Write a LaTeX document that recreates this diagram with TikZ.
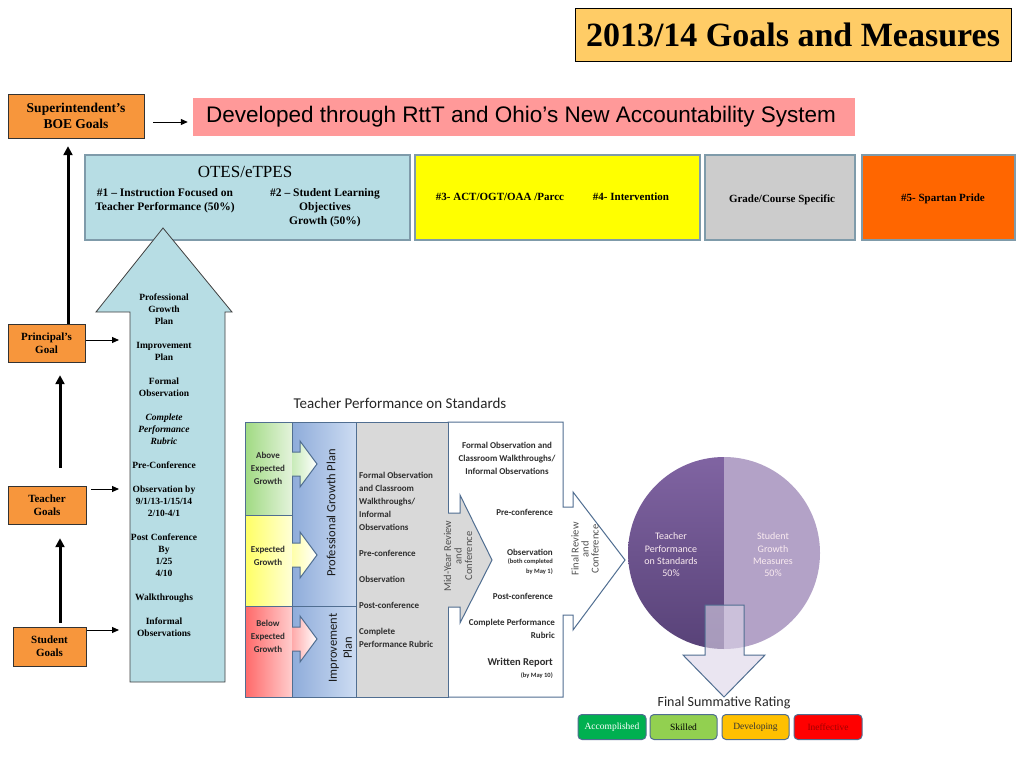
\documentclass[tikz,border=0pt]{standalone}
\usepackage{fontspec}
\setmainfont{Liberation Serif}
\newfontfamily\carl{Carlito}
\newfontfamily\arialf{Liberation Sans}
\usetikzlibrary{arrows.meta,calc}
\definecolor{goalor}{RGB}{247,150,60}
\definecolor{titlef}{RGB}{255,204,102}
\definecolor{pinkf}{RGB}{255,153,153}
\definecolor{otesf}{RGB}{183,221,228}
\definecolor{boxbd}{RGB}{127,155,170}
\definecolor{yelf}{RGB}{255,255,0}
\definecolor{grayf}{RGB}{204,204,204}
\definecolor{orf}{RGB}{255,102,0}
\definecolor{tline}{RGB}{80,110,145}
\definecolor{grayc}{RGB}{217,217,217}
\definecolor{txtg}{RGB}{45,45,45}
\definecolor{txtr}{RGB}{80,80,80}
\definecolor{pdark}{RGB}{88,66,120}
\definecolor{pmid}{RGB}{128,100,162}
\definecolor{plight}{RGB}{179,162,199}
\definecolor{lav}{RGB}{220,213,232}
\definecolor{accf}{RGB}{0,176,80}
\definecolor{skf}{RGB}{146,208,80}
\definecolor{devf}{RGB}{255,192,0}
\definecolor{inef}{RGB}{255,0,0}
\definecolor{inet}{RGB}{160,0,0}
\begin{document}
\begin{tikzpicture}[x=1pt,y=-1pt,
  goalbox/.style={draw=black!80,fill=goalor,inner sep=0,align=center,font=\bfseries\fontsize{11}{13}\selectfont},
  topbox/.style={draw=boxbd,line width=2.5pt,inner sep=0,minimum height=85},
  bold11/.style={font=\bfseries\fontsize{11.5}{14}\selectfont,align=center},
  thinarr/.style={-{Triangle[length=7pt,width=6pt]},line width=1pt},
  thickarr/.style={-{Triangle[length=9pt,width=9pt]},line width=3pt},
  tl/.style={draw=tline,line width=1pt},
  cb/.style={font=\carl\bfseries\fontsize{9}{13}\selectfont,text=txtg},
  rate/.style={draw=tline,line width=1pt,rounded corners=4pt,minimum width=67,minimum height=25,inner sep=0,font=\fontsize{9.5}{11}\selectfont}
]
\useasboundingbox (0,0) rectangle (1024,768);
\fill[white] (0,0) rectangle (1024,768);

% title
\node[draw=black,line width=1pt,fill=titlef,minimum width=436,minimum height=53,inner sep=0,
  font=\bfseries\fontsize{34}{38}\selectfont] (title) at (793,35) {2013/14 Goals and Measures};

% superintendent & pink banner
\node[goalbox,minimum width=136,minimum height=44,font=\bfseries\fontsize{13.5}{16.5}\selectfont] (sup) at (76,116) {Superintendent’s\\BOE Goals};
\node[fill=pinkf,minimum width=662,minimum height=38,inner sep=0,font=\arialf\fontsize{22.5}{25}\selectfont] (pink) at (524,117) {\hspace*{-6pt}Developed through RttT and Ohio’s New Accountability System};
\draw[thinarr] ($(sup.east)+(9,6)$) -- ($(pink.west)+(-5,5)$);

% top boxes
\node[topbox,fill=otesf,minimum width=325] (otes) at (247.5,197.5) {};
\node[topbox,fill=yelf,minimum width=285] (yel) at (557.5,197.5) {};
\node[topbox,fill=grayf,minimum width=150] (grade) at (780,197.5) {};
\node[topbox,fill=orf,minimum width=153] (spart) at (938.5,197.5) {};
\node[font=\fontsize{17}{19}\selectfont] (otest) at (245,172) {OTES/eTPES};
\node[bold11] (g1) at (165,201) {\#1 – Instruction Focused on\\Teacher Performance (50\%)};
\node[bold11] (g2) at (325,208) {\#2 – Student Learning\\Objectives\\Growth (50\%)};
\node[font=\bfseries\fontsize{11}{13}\selectfont] (g3) at (500,197) {\#3- ACT/OGT/OAA /Parcc};
\node[font=\bfseries\fontsize{11}{13}\selectfont] (g4) at (631,197) {\#4- Intervention};
\node[font=\bfseries\fontsize{11}{13}\selectfont] (gc) at (782,200) {Grade/Course Specific};
\node[font=\bfseries\fontsize{11}{13}\selectfont] (g5) at (943,199) {\#5- Spartan Pride};

% big up arrow
\draw[fill=otesf,draw=black!75,line width=0.8pt] (130,682) -- (130,312) -- (96,312) -- (163,228) -- (232,312) -- (225,312) -- (225,682) -- cycle;
\node[anchor=north,align=center,inner sep=0,font=\bfseries\fontsize{9.5}{12}\selectfont] (bigtxt) at (164,294)
 {Professional\\Growth\\Plan\\[12pt]Improvement\\Plan\\[12pt]Formal\\Observation\\[12pt]{\itshape Complete}\\{\itshape Performance}\\{\itshape Rubric}\\[12pt]Pre-Conference\\[12pt]Observation by\\9/1/13-1/15/14\\2/10-4/1\\[12pt]Post Conference\\By\\1/25\\4/10\\[12pt]Walkthroughs\\[12pt]Informal\\Observations};
\coordinate (baP) at (119,340);
\coordinate (baT) at (119,489);
\coordinate (baS) at (119,630);

% left goals
\node[goalbox,minimum width=77,minimum height=38] (pri) at (46.5,343) {Principal’s\\Goal};
\node[goalbox,minimum width=78,minimum height=38] (tea) at (47,505) {Teacher\\Goals};
\node[goalbox,minimum width=73,minimum height=39] (stu) at (49.5,646.5) {Student\\Goals};
\draw[thickarr] ($(pri.north)+(21.5,0)$) -- ($(sup.south)+(-8,8)$);
\draw[thickarr] ($(tea.north)+(13,-18)$) -- ($(pri.south)+(13.5,13)$);
\draw[thickarr] ($(stu.north)+(10.5,-4)$) -- ($(tea.south)+(13,14)$);
\draw[thinarr] ($(pri.east)+(1,-3)$) -- (baP);
\draw[thinarr] ($(tea.east)+(5,-16)$) -- (baT);
\draw[thinarr] ($(stu.east)+(1,-16.5)$) -- (baS);

% Teacher performance on standards
\node[font=\carl\fontsize{15}{17}\selectfont,text=black!85] (tps) at (400,403) {Teacher Performance on Standards};
\shade[left color={rgb,255:red,160;green,218;blue,130},right color={rgb,255:red,228;green,243;blue,220}] (245,422) rectangle (292,515);
\shade[left color={rgb,255:red,255;green,255;blue,100},right color={rgb,255:red,255;green,255;blue,215}] (245,515) rectangle (292,606);
\shade[left color={rgb,255:red,255;green,105;blue,105},right color={rgb,255:red,255;green,205;blue,205}] (245,606) rectangle (292,697);
\draw[tl] (245,422) rectangle (292,515) (245,515) rectangle (292,606) (245,606) rectangle (292,697);
\shade[left color={rgb,255:red,142;green,172;blue,218},right color={rgb,255:red,205;green,220;blue,242}] (292,422) rectangle (356,697);
\draw[tl] (292,422) rectangle (356,606) (292,606) rectangle (356,697);
% chevrons
\foreach \c/\lc in {464/{rgb,255:red,200;green,235;blue,185},555/{rgb,255:red,255;green,255;blue,170},639/{rgb,255:red,255;green,170;blue,170}}{
  \shade[tl,left color=\lc,right color=white] (292,\c-12) -- (300,\c-12) -- (300,\c-23) -- (317,\c) -- (300,\c+23) -- (300,\c+12) -- (292,\c+12);
}
% final review arrow (white)
\draw[tl,fill=white] (448,422) -- (563,422) -- (563,507) -- (573,507) -- (573,492) -- (625,560) -- (573,630) -- (573,615) -- (563,615) -- (563,697) -- (448,697) -- cycle;
\draw[tl,fill=grayc] (356,422) rectangle (448,697);
\fill[grayc] (447,513) -- (460,513) -- (460,495) -- (492,560) -- (460,623) -- (460,607) -- (447,607) -- cycle;
\draw[tl] (448,513) -- (460,513) -- (460,495) -- (492,560) -- (460,623) -- (460,607) -- (448,607);

\node[cb,align=center,inner sep=0] (r1) at (268,468) {Above\\Expected\\Growth};
\node[cb,align=center,inner sep=0] (r2) at (268,556) {Expected\\Growth};
\node[cb,align=center,inner sep=0] (r3) at (268,636) {Below\\Expected\\Growth};
\node[rotate=90,text=black!90,font=\carl\fontsize{12.5}{15}\selectfont] (pgp) at (331,513) {Professional Growth Plan};
\node[rotate=90,align=center,text=black!90,font=\carl\fontsize{12.5}{15}\selectfont] (ip) at (340.5,648) {Improvement\\Plan};
\node[cb,anchor=north west,align=left,inner sep=0] (gtxt) at (359,471.5)
 {Formal Observation\\and Classroom\\Walkthroughs/\\Informal\\Observations\\[13pt]Pre-conference\\[13pt]Observation\\[13pt]Post-conference\\[13pt]Complete\\Performance Rubric};
\node[rotate=90,align=center,text=txtr,font=\carl\fontsize{10.5}{10.5}\selectfont] (mid) at (458,556) {Mid-Year Review\\and\\Conference};
\node[rotate=90,align=center,text=txtr,font=\carl\fontsize{10.5}{10}\selectfont] (fin) at (585,549) {Final Review\\and\\Conference};
\node[cb,align=center,inner sep=0] (w1) at (507,458) {Formal Observation and\\Classroom Walkthroughs/\\Informal Observations};
\node[cb,anchor=east,inner sep=0] (w2) at (553,512) {Pre-conference};
\node[cb,anchor=east,inner sep=0] (w3) at (553,552) {Observation};
\node[cb,anchor=east,inner sep=0,align=right,font=\carl\bfseries\fontsize{6.5}{10}\selectfont] (w4) at (553,567) {(both completed\\by May 1)};
\node[cb,anchor=east,inner sep=0] (w5) at (553,596) {Post-conference};
\node[cb,anchor=east,inner sep=0,align=right] (w6) at (555,629) {Complete Performance\\Rubric};
\node[cb,anchor=east,inner sep=0,font=\carl\bfseries\fontsize{10.5}{12}\selectfont] (w7) at (553,663) {Written Report};
\node[cb,anchor=east,inner sep=0,font=\carl\bfseries\fontsize{6.5}{8}\selectfont] (w8) at (553,676) {(by May 10)};

% pie
\shade[top color=pmid,bottom color=pdark] (724,553) -- (724,457) arc[start angle=270,end angle=90,radius=96] -- cycle;
\fill[plight] (724,553) -- (724,457) arc[start angle=270,end angle=450,radius=96] -- cycle;
\node[align=center,text=white!92!purple,font=\carl\fontsize{10}{12.3}\selectfont] (pl) at (671,555) {Teacher\\Performance\\on Standards\\50\%};
\node[align=center,text=white!92!purple,font=\carl\fontsize{10}{12.3}\selectfont] (pr) at (773,555) {Student\\Growth\\Measures\\50\%};
\draw[tl,fill=lav,fill opacity=0.6] (705,605) -- (744,605) -- (744,655) -- (765,655) -- (724,697) -- (683,655) -- (705,655) -- cycle;

\node[font=\carl\fontsize{14}{16}\selectfont,text=black!85] (fsr) at (724,703) {Final Summative Rating};
\node[rate,fill=accf,text=white,minimum width=68] (acc) at (612,727) {Accomplished};
\node[rate,fill=skf] (sk) at (683.5,727) {Skilled};
\node[rate,fill=devf,text=black!80] (dev) at (755.5,727) {Developing};
\node[rate,fill=inef,text=inet,minimum width=68] (ine) at (828,727) {Ineffective};
\end{tikzpicture}
\end{document}
